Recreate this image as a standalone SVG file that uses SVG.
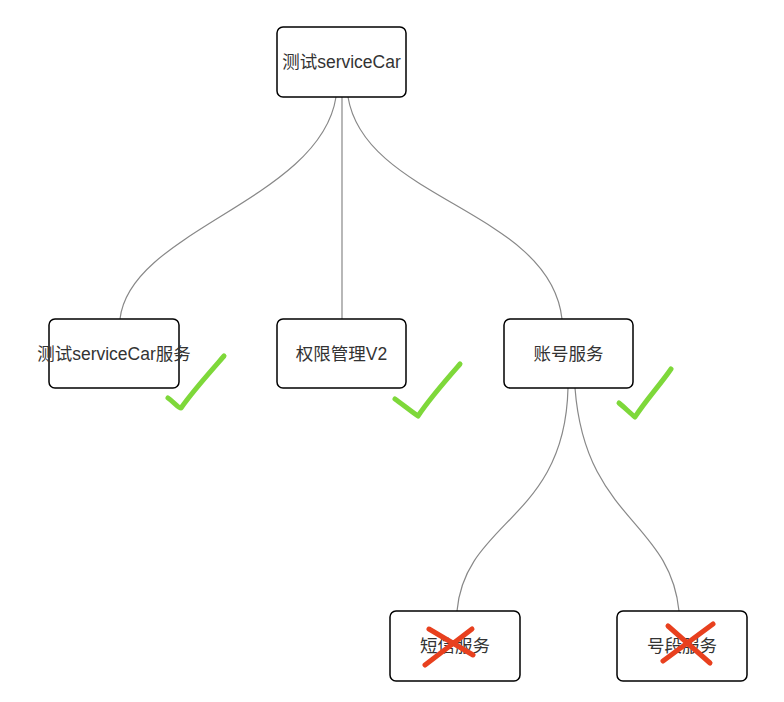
<svg xmlns="http://www.w3.org/2000/svg" width="784" height="702" viewBox="0 0 784 702">
<style>
.n rect{fill:#fff;stroke:#000;stroke-width:1.5}
.n text{font-family:"Liberation Sans","Noto Sans CJK SC",sans-serif;font-size:17.5px;fill:#333;text-anchor:middle;dominant-baseline:central}
.c path{fill:none;stroke:#888;stroke-width:1.2}
.ok{fill:none;stroke:#7ed83a;stroke-width:5;stroke-linecap:round;stroke-linejoin:round}
.x{fill:none;stroke:#e8401e;stroke-width:5;stroke-linecap:round}
</style>
<rect width="784" height="702" fill="#fff"/>
<g class="c">
<path d="M336,97 C320,200 130,230 120,319"/>
<path d="M342,97 L342,319"/>
<path d="M348,97 C365,200 550,210 562,319"/>
<path d="M568,388 C565,520 465,520 457,611"/>
<path d="M575,388 C585,520 670,520 679,611"/>
</g>
<g id="n0" class="n"><rect x="277" y="27" width="129" height="70" rx="6"/><text x="341.5" y="62">测试serviceCar</text></g>
<g id="n1" class="n"><rect x="49" y="319" width="130" height="69" rx="6"/><text x="114" y="354">测试serviceCar服务</text></g>
<g id="n2" class="n"><rect x="277" y="319" width="129" height="69" rx="6"/><text x="341.5" y="354">权限管理V2</text></g>
<g id="n3" class="n"><rect x="504" y="319" width="129" height="69" rx="6"/><text x="568.5" y="354">账号服务</text></g>
<g id="n4" class="n"><rect x="390" y="611" width="130" height="70" rx="6"/><text x="455" y="646">短信服务</text></g>
<g id="n5" class="n"><rect x="617" y="611" width="130" height="70" rx="6"/><text x="682" y="646">号段服务</text></g>
<path class="ok" d="M168,398 C174,402 178,408 181,408 C192,392 210,372 224,356"/>
<path class="ok" d="M395,399 C402,404 412,412 418,416 C430,398 446,380 460,364"/>
<path class="ok" d="M619,403 C624,407 630,413 635,417 C646,400 660,385 671,369"/>
<path class="x" d="M429,629 L473,655 M472,629 L425,665"/>
<path class="x" d="M668,626 L710,663 M713,624 L663,661"/>
</svg>
